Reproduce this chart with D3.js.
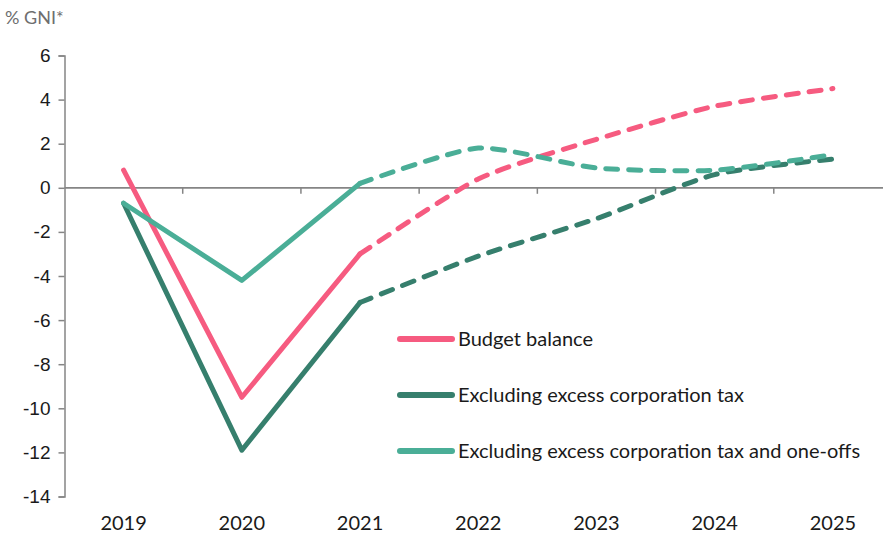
<!DOCTYPE html>
<html>
<head>
<meta charset="utf-8">
<script src="https://cdn.jsdelivr.net/npm/d3@7"></script>
<style>
  body { margin: 0; background: #fff; }
  svg { font-family: "Lato", "Open Sans", sans-serif; }
</style>
</head>
<body>
<div class="canvas"></div>
<script>
const years = ['2019', '2020', '2021', '2022', '2023', '2024', '2025'];
const budgetBalance = [0.8, -9.5, -3.0, 0.4, 2.2, 3.7, 4.5];
const exCorpTax = [-0.7, -11.9, -5.2, -3.1, -1.4, 0.6, 1.3];
const exCorpTaxOneOffs = [-0.7, -4.2, 0.2, 1.8, 0.9, 0.8, 1.5];
const yTicks = [6, 4, 2, 0, -2, -4, -6, -8, -10, -12, -14];
const forecastFrom = 2; // index where the dashed projection begins

const series = [
  { name: 'Budget balance', values: budgetBalance, color: '#f65b80' },
  { name: 'Excluding excess corporation tax', values: exCorpTax, color: '#367f6d' },
  { name: 'Excluding excess corporation tax and one-offs', values: exCorpTaxOneOffs, color: '#4aae97' }
];

const svg = d3.select('.canvas').append('svg')
    .attr('width', 883)
    .attr('height', 535);

const x = d3.scaleBand()
    .domain(years)
    .range([64.5, 892])
    .padding(0);

const y = d3.scaleLinear()
    .domain([-14, 6])
    .range([496.5, 55.5]);

const axisColor = '#858585';

// y axis
const yAxis = svg.append('g')
    .attr('transform', 'translate(64.5,0)')
    .call(d3.axisLeft(y).tickValues(yTicks).tickSize(6).tickPadding(8).tickFormat(d3.format('d')));
yAxis.select('.domain').attr('stroke', axisColor).attr('stroke-width', 1.5);
yAxis.selectAll('.tick line').attr('stroke', axisColor).attr('stroke-width', 1.5);
yAxis.selectAll('.tick text')
    .attr('fill', '#1a1a1a')
    .style('font-size', '19px')
    .text(d => d < 0 ? '-' + Math.abs(d) : d);

// x axis line at zero, ticks at category boundaries
const zeroY = y(0);
svg.append('line')
    .attr('x1', 64.5).attr('x2', 883)
    .attr('y1', zeroY).attr('y2', zeroY)
    .attr('stroke', axisColor).attr('stroke-width', 1.8);
svg.selectAll('.xtick')
    .data(years.slice(1))
    .join('line')
    .attr('class', 'xtick')
    .attr('x1', d => x(d)).attr('x2', d => x(d))
    .attr('y1', zeroY).attr('y2', zeroY + 6)
    .attr('stroke', axisColor).attr('stroke-width', 1.5);

svg.selectAll('.xlabel')
    .data(years)
    .join('text')
    .attr('class', 'xlabel')
    .attr('x', d => x(d) + x.bandwidth() / 2)
    .attr('y', 530)
    .attr('text-anchor', 'middle')
    .attr('fill', '#1a1a1a')
    .style('font-size', '20px')
    .text(d => d);

svg.append('text')
    .attr('x', 5)
    .attr('y', 24)
    .attr('fill', '#6e6e6e')
    .style('font-size', '18px')
    .text('% GNI*');

const cx = i => x(years[i]) + x.bandwidth() / 2;

const solid = d3.line()
    .x(d => cx(d.i))
    .y(d => y(d.v));

const dashed = d3.line()
    .x(d => cx(d.i))
    .y(d => y(d.v))
    .curve(d3.curveCardinal.tension(0.35));

series.forEach(s => {
  const pts = s.values.map((v, i) => ({ i, v }));
  svg.append('path')
      .attr('d', solid(pts.slice(0, forecastFrom + 1)))
      .attr('fill', 'none')
      .attr('stroke', s.color)
      .attr('stroke-width', 5)
      .attr('stroke-linejoin', 'round')
      .attr('stroke-linecap', 'round');
  svg.append('path')
      .attr('d', dashed(pts.slice(forecastFrom)))
      .attr('fill', 'none')
      .attr('stroke', s.color)
      .attr('stroke-width', 5)
      .attr('stroke-dasharray', '12,11')
      .attr('stroke-linecap', 'round');
});

// legend
const legend = svg.append('g');
series.forEach((s, k) => {
  const ly = 339 + k * 56;
  legend.append('line')
      .attr('x1', 400).attr('x2', 452)
      .attr('y1', ly).attr('y2', ly)
      .attr('stroke', s.color)
      .attr('stroke-width', 6)
      .attr('stroke-linecap', 'round');
  legend.append('text')
      .attr('x', 458)
      .attr('y', ly + 7)
      .attr('fill', '#1a1a1a')
      .style('font-size', '20px')
      .text(s.name);
});
</script>
</body>
</html>
